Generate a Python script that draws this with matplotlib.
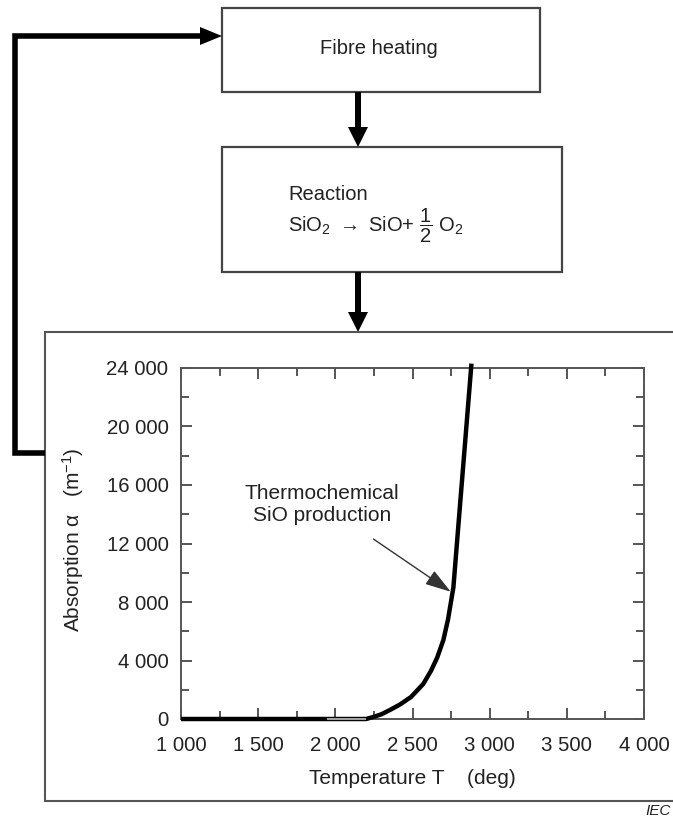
import matplotlib.pyplot as plt
import matplotlib.patches as patches

plt.rcParams['font.family'] = ['Liberation Sans', 'DejaVu Sans']
plt.rcParams['mathtext.fontset'] = 'custom'
plt.rcParams['mathtext.rm'] = 'Liberation Sans'
plt.rcParams['mathtext.it'] = 'Liberation Sans:italic'

# absorption curve
temperature = [1000, 1500, 2000, 2200, 2250, 2300, 2360, 2420, 2490, 2570,
               2620, 2660, 2700, 2730, 2765, 2800, 2840, 2882]
absorption = [0, 0, 0, 0, 150, 330, 650, 1000, 1500, 2400,
              3300, 4200, 5400, 6800, 9000, 13600, 18800, 24300]
faded_T = [1950, 2190]
faded_a = [0, 0]

x_ticks = [1000, 1500, 2000, 2500, 3000, 3500, 4000]
x_labels = ["1 000", "1 500", "2 000", "2 500", "3 000", "3 500", "4 000"]
y_ticks = [0, 4000, 8000, 12000, 16000, 20000, 24000]
y_labels = ["0", "4 000", "8 000", "12 000", "16 000", "20 000", "24 000"]

W, H = 673, 818
fig = plt.figure(figsize=(W / 100, H / 100), dpi=100)

# overlay in pixel units for the flow diagram
ov = fig.add_axes([0, 0, 1, 1])
ov.set_xlim(0, W)
ov.set_ylim(H, 0)
ov.axis('off')

box_col = '#444444'
txt_col = '#222222'
ov.add_patch(patches.Rectangle((222, 8), 318, 84, fill=False, ec=box_col, lw=1.6))
ov.add_patch(patches.Rectangle((222, 147), 340, 125, fill=False, ec=box_col, lw=1.6))
ov.text(379, 48, "Fibre heating", ha='center', va='center', fontsize=14.5, color=txt_col)
ov.text(288, 194, "Reaction", ha='left', va='center', fontsize=14.5, color=txt_col)
ov.text(288, 226, r"SiO$_2$ $\rightarrow$ SiO+ $\dfrac{1}{2}$ O$_2$", ha='left', va='center',
        fontsize=14.5, color=txt_col)

# down arrows between the boxes
ov.arrow(358, 92, 0, 55, width=6, head_width=20, head_length=20,
         length_includes_head=True, color='black', lw=0)
ov.arrow(358, 272, 0, 60, width=6, head_width=20, head_length=20,
         length_includes_head=True, color='black', lw=0)

# outer frame around the plot (open on the right)
ov.plot([W, 45, 45, W], [332, 332, 801, 801], color='#555555', lw=1.5,
        solid_joinstyle='miter')

# feedback loop back to the first box
ov.plot([45, 15, 15, 202], [453, 453, 36, 36], color='black', lw=4,
        solid_joinstyle='miter', solid_capstyle='butt')
ov.arrow(200, 36, 22, 0, width=6, head_width=18, head_length=22,
         length_includes_head=True, color='black', lw=0)

ov.text(671, 811, "IEC", ha='right', va='center', fontsize=11, style='italic', color=txt_col)

# plot axes
ax = fig.add_axes([181 / W, (H - 719) / H, (644 - 181) / W, (719 - 368) / H])
ax.plot(temperature, absorption, color='black', lw=3.2, clip_on=False, zorder=5,
        solid_capstyle='butt')
ax.plot(faded_T, faded_a, color='#a0a0a0', lw=1.5, clip_on=False, zorder=6)
ax.set_xlim(1000, 4000)
ax.set_ylim(0, 24000)

ax.set_xticks(x_ticks)
ax.set_xticklabels(x_labels)
ax.set_yticks(y_ticks)
ax.set_yticklabels(y_labels)
ax.set_xticks([1250, 1750, 2250, 2750, 3250, 3750], minor=True)
ax.set_yticks([2000, 6000, 10000, 14000, 18000, 22000], minor=True)

for s in ax.spines.values():
    s.set_color('#555555')
    s.set_linewidth(1.4)
ax.tick_params(which='both', direction='in', top=True, right=True, color='#555555',
               width=1.4, labelsize=14.7, labelcolor=txt_col)
ax.tick_params(which='major', length=8)
ax.tick_params(which='minor', length=6)
ax.tick_params(axis='x', pad=12)
ax.tick_params(axis='y', pad=9)

ax.set_xlabel("Temperature T    (deg)", fontsize=15, color=txt_col, labelpad=10)
ax.set_ylabel("Absorption α   (m$^{-1}$)", fontsize=15, color=txt_col)
ax.yaxis.set_label_coords(-0.205, 0.51)

ax.annotate("Thermochemical\nSiO production", xy=(2748, 8700), xytext=(1914, 14700),
            ha='center', va='center', fontsize=15, color=txt_col,
            arrowprops=dict(arrowstyle='-|>,head_length=0.8,head_width=0.25',
                            mutation_scale=20, color='#333333', lw=1,
                            shrinkA=15, shrinkB=0))

fig.savefig("out.png", dpi=100)
